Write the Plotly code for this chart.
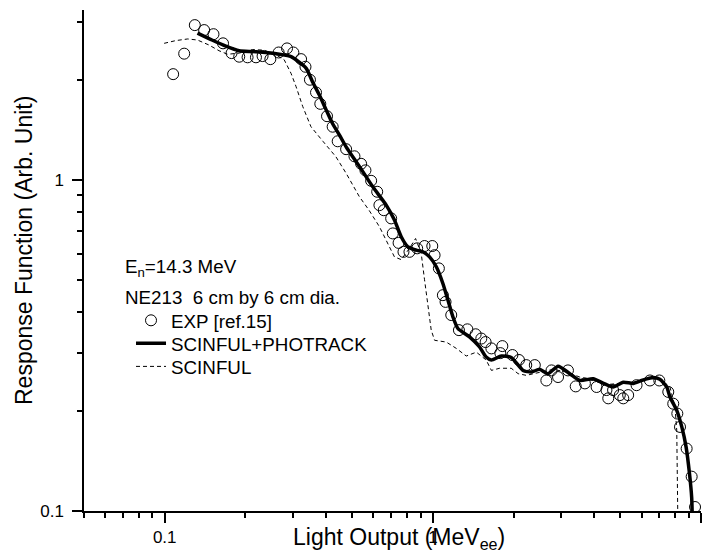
import plotly.graph_objects as go

# ---------------- data ----------------
exp_x = [0.1075, 0.1182, 0.1295, 0.1403, 0.152, 0.165, 0.1775, 0.1896, 0.2037, 0.2189,
         0.2317, 0.2477, 0.266, 0.2858, 0.3018, 0.3225, 0.3349, 0.348, 0.3667, 0.3804,
         0.403, 0.423, 0.4417, 0.4748, 0.510, 0.540, 0.5605, 0.5886, 0.620, 0.632,
         0.656, 0.699, 0.709, 0.745, 0.777, 0.818, 0.874, 0.931, 0.995, 1.015,
         1.053, 1.09, 1.115, 1.171, 1.251, 1.345, 1.444, 1.516, 1.573, 1.653,
         1.785, 1.816, 1.98, 2.095, 2.23, 2.40, 2.65, 2.77, 2.93, 3.19,
         3.41, 3.69, 4.08, 4.44, 4.51, 4.70, 4.98, 5.13, 5.35, 5.75,
         6.45, 6.99, 7.55, 7.88, 8.16, 8.35, 8.84, 9.23, 9.50]
exp_y = [2.09, 2.41, 2.94, 2.84, 2.76, 2.59, 2.42, 2.36, 2.35, 2.35,
         2.37, 2.32, 2.43, 2.50, 2.43, 2.32, 2.20, 2.01, 1.84, 1.70,
         1.56, 1.45, 1.31, 1.24, 1.18, 1.12, 1.07, 0.995, 0.922, 0.840,
         0.811, 0.766, 0.690, 0.646, 0.607, 0.607, 0.622, 0.632, 0.632, 0.593,
         0.541, 0.449, 0.4285, 0.391, 0.352, 0.354, 0.342, 0.332, 0.324, 0.310,
         0.300, 0.315, 0.296, 0.286, 0.276, 0.276, 0.248, 0.266, 0.254, 0.266,
         0.238, 0.243, 0.237, 0.232, 0.219, 0.232, 0.224, 0.219, 0.224, 0.240,
         0.248, 0.248, 0.229, 0.211, 0.197, 0.1795, 0.1544, 0.127, 0.1028]

photrack_x = [0.1325, 0.150, 0.169, 0.1896, 0.2125, 0.2385, 0.2676, 0.296, 0.3365, 0.356,
              0.377, 0.40, 0.423, 0.448, 0.4748, 0.532, 0.597, 0.67, 0.719, 0.762,
              0.807, 0.867, 0.918, 0.972, 1.03, 1.09, 1.138, 1.188, 1.24, 1.37,
              1.494, 1.58, 1.653, 1.80, 1.96, 2.17, 2.33, 2.50, 2.69, 2.93,
              3.24, 3.53, 3.96, 4.33, 4.70, 5.13, 5.59, 6.0, 6.63, 7.02,
              7.45, 7.66, 8.12, 8.48, 8.8, 9.06, 9.23, 9.27]
photrack_y = [2.78, 2.65, 2.54, 2.46, 2.445, 2.43, 2.40, 2.36, 2.18, 1.98,
              1.81, 1.63, 1.48, 1.37, 1.26, 1.10, 0.954, 0.84, 0.757, 0.674,
              0.628, 0.614, 0.607, 0.586, 0.547, 0.487, 0.434, 0.386, 0.356, 0.336,
              0.313, 0.292, 0.286, 0.294, 0.291, 0.266, 0.263, 0.268, 0.260, 0.274,
              0.260, 0.248, 0.251, 0.243, 0.237, 0.245, 0.243, 0.248, 0.253, 0.250,
              0.237, 0.221, 0.2015, 0.1795, 0.156, 0.1297, 0.110, 0.099]

scinful_x = [0.0995, 0.1101, 0.1219, 0.1325, 0.1462, 0.1594, 0.1716, 0.1896, 0.2125, 0.2346,
             0.26, 0.279, 0.296, 0.309, 0.327, 0.351, 0.389, 0.435, 0.475, 0.532,
             0.578, 0.632, 0.689, 0.719, 0.762, 0.818, 0.862, 0.905, 0.931, 0.958,
             0.986, 1.015, 1.122, 1.223, 1.332, 1.453, 1.58, 1.653, 1.774, 1.96,
             2.08, 2.23, 2.50, 2.81, 3.15, 3.53, 3.96, 4.44, 4.98, 5.59,
             6.27, 7.02, 7.66, 8.0, 8.12, 8.16, 8.19]
scinful_y = [2.59, 2.64, 2.67, 2.65, 2.56, 2.46, 2.40, 2.42, 2.48, 2.47,
             2.39, 2.31, 2.10, 1.915, 1.67, 1.45, 1.31, 1.176, 1.048, 0.891,
             0.811, 0.723, 0.628, 0.586, 0.575, 0.622, 0.666, 0.600, 0.50, 0.414,
             0.352, 0.328, 0.324, 0.310, 0.294, 0.302, 0.286, 0.266, 0.270, 0.270,
             0.260, 0.257, 0.263, 0.268, 0.263, 0.254, 0.248, 0.241, 0.243, 0.245,
             0.251, 0.251, 0.237, 0.206, 0.1754, 0.136, 0.099]

x_major = [0.1, 1, 10]
x_major_labels = ["0.1", "1", "10"]
x_minor = [0.05, 0.06, 0.07, 0.08, 0.09, 0.2, 0.3, 0.4, 0.5, 0.6, 0.7, 0.8, 0.9,
           2, 3, 4, 5, 6, 7, 8, 9]
y_major = [0.1, 1]
y_major_labels = ["0.1", "1"]
y_minor = [0.2, 0.3, 0.4, 0.5, 0.6, 0.7, 0.8, 0.9, 2, 3]

FONT = "Liberation Sans, Arial, Helvetica, sans-serif"
TXT = 18.8

fig = go.Figure()
fig.add_trace(go.Scatter(
    x=exp_x, y=exp_y, mode="markers", name="EXP [ref.15]", legend="legend",
    marker=dict(symbol="circle-open", size=11, color="black", line=dict(width=1))))
fig.add_trace(go.Scatter(
    x=photrack_x, y=photrack_y, mode="lines", name="SCINFUL+PHOTRACK", legend="legend2",
    line=dict(color="black", width=3.5, shape="spline", smoothing=0.6)))
fig.add_trace(go.Scatter(
    x=scinful_x, y=scinful_y, mode="lines", name="SCINFUL", legend="legend3",
    line=dict(color="black", width=1, dash="4px,3px")))

axis_common = dict(
    type="log", showgrid=False, zeroline=False, showline=True, linecolor="black",
    linewidth=1.5, ticks="outside", ticklen=10, tickwidth=1.5, tickcolor="black",
    tickfont=dict(family=FONT, size=17, color="black"), mirror=False,
)
fig.update_xaxes(**axis_common, range=[-1.30103, 1.0], tickmode="array",
                 tickvals=x_major, ticktext=x_major_labels,
                 minor=dict(tickvals=x_minor, ticks="outside", ticklen=5,
                            tickwidth=1.5, tickcolor="black"))
fig.update_yaxes(**axis_common, range=[-1.0, 0.514], tickmode="array",
                 tickvals=y_major, ticktext=y_major_labels, ticklabelstandoff=5,
                 minor=dict(tickvals=y_minor, ticks="outside", ticklen=5,
                            tickwidth=1.5, tickcolor="black"))

leg = dict(x=0.0762, xanchor="left", yanchor="top", bgcolor="rgba(0,0,0,0)",
           font=dict(family=FONT, size=TXT, color="black"))

fig.update_layout(
    width=709, height=558,
    margin=dict(l=84, r=8, t=10, b=47),
    plot_bgcolor="white", paper_bgcolor="white",
    font=dict(family=FONT, color="black"),
    showlegend=True,
    legend=dict(leg, y=0.418),
    legend2=dict(leg, y=0.372),
    legend3=dict(leg, y=0.326),
    annotations=[
        dict(text="E<sub>n</sub>=14.3 MeV", x=0.0632, y=0.485, xref="paper", yref="paper",
             xanchor="left", yanchor="middle", showarrow=False,
             font=dict(family=FONT, size=TXT, color="black")),
        dict(text="NE213  6 cm by 6 cm dia.", x=0.0632, y=0.427, xref="paper", yref="paper",
             xanchor="left", yanchor="middle", showarrow=False,
             font=dict(family=FONT, size=TXT, color="black")),
        dict(text="Light Output (MeV<sub>ee</sub>)", x=0.5105, y=-0.055, xref="paper",
             yref="paper", xanchor="center", yanchor="middle", showarrow=False,
             font=dict(family=FONT, size=23, color="black")),
        dict(text="Response Function (Arb. Unit)", x=-0.0972, y=0.519, xref="paper",
             yref="paper", xanchor="center", yanchor="middle", showarrow=False,
             textangle=-90, font=dict(family=FONT, size=23, color="black")),
    ],
)

fig.write_html("out.html")
